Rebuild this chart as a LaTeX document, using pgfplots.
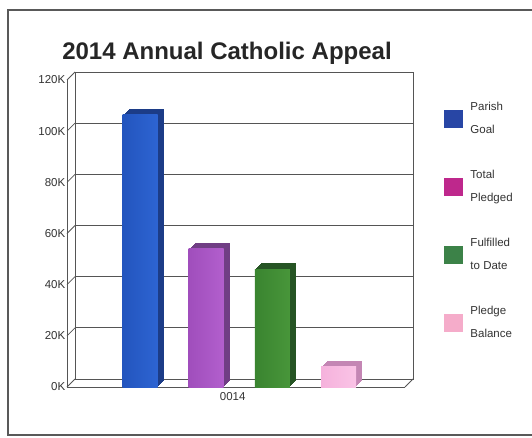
\documentclass[border=0pt]{standalone}
\usepackage{pgfplots}
\pgfplotsset{compat=1.18}
\usepackage{fontspec}
\setmainfont{Liberation Sans}
\definecolor{gridc}{RGB}{85,85,85}
\definecolor{bluF}{RGB}{35,85,190}
\definecolor{bluFl}{RGB}{45,100,210}
\definecolor{bluT}{RGB}{28,60,135}
\definecolor{purF}{RGB}{160,78,188}
\definecolor{purFl}{RGB}{178,95,205}
\definecolor{purT}{RGB}{112,62,132}
\definecolor{grnF}{RGB}{58,132,48}
\definecolor{grnFl}{RGB}{72,150,58}
\definecolor{grnT}{RGB}{38,84,36}
\definecolor{pnkF}{RGB}{245,178,220}
\definecolor{pnkFl}{RGB}{250,195,230}
\definecolor{pnkT}{RGB}{196,134,180}
\definecolor{legB}{RGB}{40,70,165}
\definecolor{legM}{RGB}{190,40,140}
\definecolor{legG}{RGB}{60,130,72}
\definecolor{legP}{RGB}{245,172,202}
\begin{document}
\begin{tikzpicture}
\useasboundingbox (0pt,0pt) rectangle (532pt,437pt);
\fill[white] (0pt,0pt) rectangle (532pt,437pt);
% outer frame
\draw[black!65, line width=1.1pt] (545pt,427pt) -- (8pt,427pt) -- (8pt,2pt) -- (545pt,2pt);
% title
\node[anchor=base, font=\fontsize{24}{27}\selectfont\bfseries, text=black!85] at (227pt,377pt) {2014 Annual Catholic Appeal};
% back plane with grid
\begin{axis}[
  at={(75pt,58pt)}, anchor=south west,
  width=338pt, height=307pt, scale only axis,
  xmin=0, xmax=1, ymin=0, ymax=120000,
  scaled y ticks=false,
  xtick=\empty, ytick={0,20000,40000,60000,80000,100000,120000},
  yticklabels={}, major tick length=0pt,
  ymajorgrids, grid style={gridc, line width=0.8pt},
  axis line style={gridc, line width=0.8pt},
  clip=false,
]
\pgfplotsinvokeforeach{0,20000,40000,60000,80000,100000,120000}{
  \draw[gridc, line width=0.8pt] (axis cs:0,#1) -- ++(-8pt,-8pt);
}
\draw[gridc, line width=0.8pt] (axis cs:1,0) -- ++(-8pt,-8pt);
\end{axis}
% front plane with bars
\begin{axis}[
  at={(67pt,50pt)}, anchor=south west,
  width=338pt, height=307pt, scale only axis,
  xmin=-1.103, xmax=4.003, ymin=0, ymax=120000,
  scaled y ticks=false,
  axis lines=left, axis line style={-, gridc, line width=0.8pt},
  major tick length=0pt,
  ytick={0,20000,40000,60000,80000,100000,120000},
  yticklabels={0K,20K,40K,60K,80K,100K,120K},
  xtick={1.4}, xticklabels={0014},
  tick label style={font=\fontsize{11.5}{13}\selectfont, text=black!80},
  yticklabel style={inner sep=1.5pt},
  xticklabel style={inner sep=5pt},
  clip=false,
  legend image code/.code={\fill[#1] (0pt,-8.5pt) rectangle (18pt,8.5pt);},
  legend style={at={(1.115,0.928)}, anchor=north west, draw=none, fill=none,
    inner sep=0pt, row sep=35pt,
    nodes={inner sep=0pt, align=left, font=\fontsize{11.5}{23}\selectfont, text=black!80},
    /tikz/every odd column/.append style={column sep=8pt}},
  legend cell align=left,
]
\addlegendimage{legB}\addlegendentry{Parish\\Goal}
\addlegendimage{legM}\addlegendentry{Total\\Pledged}
\addlegendimage{legG}\addlegendentry{Fulfilled\\to Date}
\addlegendimage{legP}\addlegendentry{Pledge\\Balance}
\pgfplotsinvokeforeach{6,5,4,3,2,1}{
  \addplot[ybar, bar width=35pt, bar shift=0pt, fill=bluT, draw=none, forget plot, xshift=#1pt, yshift=#1pt] coordinates {(0,106500)};
  \addplot[ybar, bar width=35pt, bar shift=0pt, fill=purT, draw=none, forget plot, xshift=#1pt, yshift=#1pt] coordinates {(1,54000)};
  \addplot[ybar, bar width=35pt, bar shift=0pt, fill=grnT, draw=none, forget plot, xshift=#1pt, yshift=#1pt] coordinates {(2,46000)};
  \addplot[ybar, bar width=35pt, bar shift=0pt, fill=pnkT, draw=none, forget plot, xshift=#1pt, yshift=#1pt] coordinates {(3,8000)};
}
\addplot[ybar, bar width=35pt, bar shift=0pt, draw=none, left color=bluF, right color=bluFl, forget plot] coordinates {(0,106500)};
\addplot[ybar, bar width=35pt, bar shift=0pt, draw=none, left color=purF, right color=purFl, forget plot] coordinates {(1,54000)};
\addplot[ybar, bar width=35pt, bar shift=0pt, draw=none, left color=grnF, right color=grnFl, forget plot] coordinates {(2,46000)};
\addplot[ybar, bar width=35pt, bar shift=0pt, draw=none, left color=pnkF, right color=pnkFl, forget plot] coordinates {(3,8000)};
\end{axis}
\end{tikzpicture}
\end{document}
